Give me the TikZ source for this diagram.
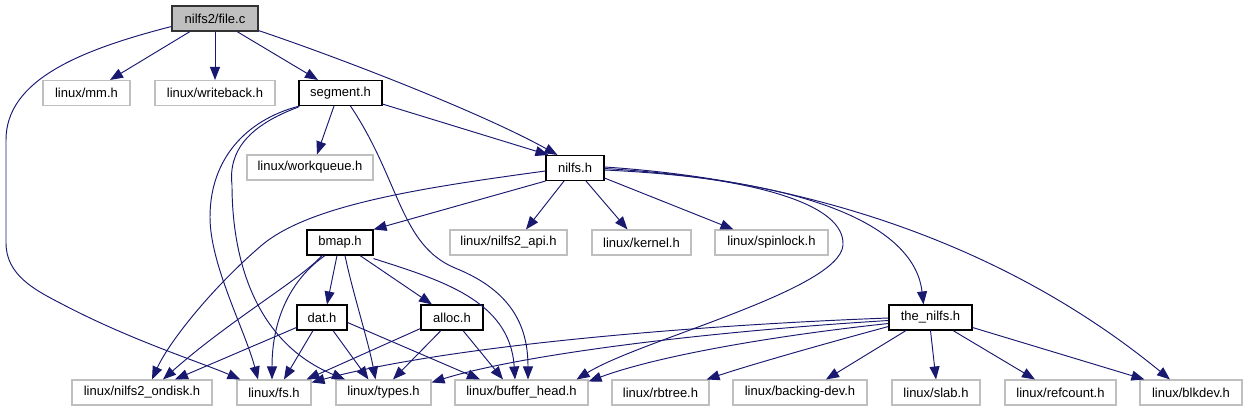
\documentclass[tikz,border=0pt]{standalone}
\usepackage{fontspec}
\setmainfont{Liberation Sans}
\usetikzlibrary{arrows.meta}
\definecolor{edgeblue}{HTML}{191970}
\definecolor{greyb}{HTML}{BFBFBF}
\begin{document}
\begin{tikzpicture}[x=1pt,y=-1pt,
  box/.style={draw=black, line width=1.1pt, rectangle, minimum height=25pt, inner sep=0pt, font=\fontsize{13}{15}\selectfont, fill=white},
  ext/.style={box, draw=greyb},
  root/.style={box, fill=greyb, draw=black!80},
  dep/.style={draw=edgeblue, line width=0.95pt, -{Triangle[length=13pt,width=10pt]}}
]
\useasboundingbox (0,0) rectangle (1248,411);
% nodes
\node[root, minimum width=86pt] (file) at (215,18.5) {nilfs2/file.c};
\node[ext, minimum width=87pt] (mm) at (86.5,93) {linux/mm.h};
\node[ext, minimum width=120pt] (wb) at (215,93) {linux/writeback.h};
\node[box, minimum width=83pt] (seg) at (340.5,93) {segment.h};
\node[ext, minimum width=126pt] (wq) at (310,167.5) {linux/workqueue.h};
\node[box, minimum width=58pt] (nilfs) at (575,168) {nilfs.h};
\node[box, minimum width=66pt] (bmap) at (340,242.5) {bmap.h};
\node[ext, minimum width=117pt] (api) at (508.5,242.5) {linux/nilfs2\_api.h};
\node[ext, minimum width=99pt] (kernel) at (641.5,242.5) {linux/kernel.h};
\node[ext, minimum width=113pt] (spin) at (771.5,242.5) {linux/spinlock.h};
\node[box, minimum width=50pt] (dat) at (322,317.5) {dat.h};
\node[box, minimum width=62pt] (alloc) at (452,317.5) {alloc.h};
\node[box, minimum width=83pt] (the) at (930.5,317.5) {the\_nilfs.h};
\node[ext, minimum width=140pt] (ondisk) at (142,392.5) {linux/nilfs2\_ondisk.h};
\node[ext, minimum width=74pt] (fs) at (274,392.5) {linux/fs.h};
\node[ext, minimum width=95pt] (types) at (383.5,392.5) {linux/types.h};
\node[ext, minimum width=133pt] (bh) at (521.5,392.5) {linux/buffer\_head.h};
\node[ext, minimum width=97pt] (rbtree) at (660.5,392.5) {linux/rbtree.h};
\node[ext, minimum width=134pt] (bdev) at (800,392.5) {linux/backing-dev.h};
\node[ext, minimum width=88pt] (slab) at (936,392.5) {linux/slab.h};
\node[ext, minimum width=111pt] (ref) at (1060.5,392.5) {linux/refcount.h};
\node[ext, minimum width=102pt] (blk) at (1191,392.5) {linux/blkdev.h};
% file.c
\draw[dep] ([xshift=-25pt]file.south) -- ([xshift=23.5pt]mm.north);
\draw[dep] (file.south) -- (wb.north);
\draw[dep] ([xshift=22pt]file.south) -- ([xshift=-22.5pt]seg.north);
\draw[dep] ([yshift=1pt]file.south east) .. controls (340,58) and (480,112) .. ([xshift=12pt]nilfs.north west);
\draw[dep] ([yshift=-8pt]file.west) .. controls (80,50) and (6,80) .. (6,140) -- (6,243) .. controls (6,275) and (35,290) .. (60,303) .. controls (130,340) and (200,362) .. ([xshift=4pt]fs.north west);
% segment.h
\draw[dep] ([xshift=-6.5pt]seg.south) -- ([xshift=7pt]wq.north);
\draw[dep] ([yshift=2pt]seg.south east) -- ([xshift=3pt]nilfs.north west);
\draw[dep] ([xshift=1pt]seg.south west) .. controls (245,120) and (210,160) .. (210,217) .. controls (210,265) and (245,330) .. ([xshift=-16pt]fs.north);
\draw[dep] ([yshift=-1pt]seg.south west) .. controls (250,125) and (228,150) .. (232,185) .. controls (232,250) and (250,340) .. ([xshift=-38.5pt]types.north);
\draw[dep] ([xshift=10pt]seg.south) .. controls (400,180) and (400,245) .. (455,268) .. controls (515,292) and (528,330) .. ([xshift=6.5pt]bh.north);
% nilfs.h
\draw[dep] (nilfs.south west) -- (bmap.north east);
\draw[dep] ([xshift=-11pt]nilfs.south) -- ([xshift=17.5pt]api.north);
\draw[dep] ([xshift=11pt]nilfs.south) -- ([xshift=-14pt]kernel.north);
\draw[dep] ([yshift=3pt]nilfs.south east) -- ([xshift=-38pt]spin.north);
\draw[dep] ([yshift=-2pt]nilfs.east) .. controls (820,180) and (915,230) .. ([xshift=-7pt]the.north);
\draw[dep] ([yshift=1pt]nilfs.east) .. controls (800,180) and (1000,240) .. ([xshift=-21pt]blk.north);
\draw[dep] ([yshift=-0.5pt]nilfs.east) .. controls (760,178) and (845,205) .. (843,245) .. controls (840,290) and (640,340) .. ([xshift=-12pt]bh.north east);
\draw[dep] ([yshift=-3pt]nilfs.west) .. controls (420,188) and (310,205) .. (262,245) .. controls (215,285) and (170,340) .. ([xshift=10pt]ondisk.north);
% bmap.h
\draw[dep] ([xshift=-3pt]bmap.south) -- ([xshift=5pt]dat.north);
\draw[dep] ([xshift=20pt]bmap.south) -- ([xshift=-20pt]alloc.north);
\draw[dep] ([xshift=-18pt]bmap.south) .. controls (300,280) and (230,320) .. ([xshift=21pt]ondisk.north);
\draw[dep] ([xshift=-15pt]bmap.south) .. controls (290,280) and (272,320) .. ([xshift=-2pt]fs.north);
\draw[dep] ([xshift=5pt]bmap.south) .. controls (352,290) and (368,340) .. ([xshift=-8pt]types.north);
\draw[dep] ([yshift=-3pt]bmap.south east) .. controls (440,280) and (510,300) .. ([xshift=-6.5pt]bh.north);
% dat.h
\draw[dep] ([yshift=-10pt]dat.west) -- ([xshift=33pt]ondisk.north);
\draw[dep] ([xshift=-9pt]dat.south) -- ([xshift=10pt]fs.north);
\draw[dep] ([xshift=11pt]dat.south) -- ([xshift=-15pt]types.north);
\draw[dep] ([yshift=-5pt]dat.east) -- ([xshift=-41.5pt]bh.north);
% alloc.h
\draw[dep] ([yshift=2pt]alloc.south west) -- ([xshift=-5pt]fs.north east);
\draw[dep] ([xshift=-11pt]alloc.south) -- ([xshift=9.5pt]types.north);
\draw[dep] ([xshift=11pt]alloc.south) -- ([xshift=-18.5pt]bh.north);
% the_nilfs.h
\draw[dep] ([yshift=-0.5pt]the.west) .. controls (700,325) and (450,345) .. ([yshift=-3pt]fs.north east);
\draw[dep] ([yshift=-3pt]the.west) .. controls (700,332) and (520,355) .. ([yshift=-3pt]types.north east);
\draw[dep] ([yshift=-6pt]the.west) .. controls (780,335) and (660,355) .. ([yshift=-2pt]bh.north east);
\draw[dep] ([yshift=-9pt]the.west) .. controls (820,345) and (750,365) .. ([xshift=-3pt]rbtree.north east);
\draw[dep] ([xshift=-24.5pt]the.south) -- ([xshift=26pt]bdev.north);
\draw[dep] (the.south) -- (slab.north);
\draw[dep] ([xshift=22.5pt]the.south) -- ([xshift=-25.5pt]ref.north);
\draw[dep] ([yshift=-10pt]the.east) -- ([xshift=5pt]blk.north west);
\end{tikzpicture}
\end{document}
